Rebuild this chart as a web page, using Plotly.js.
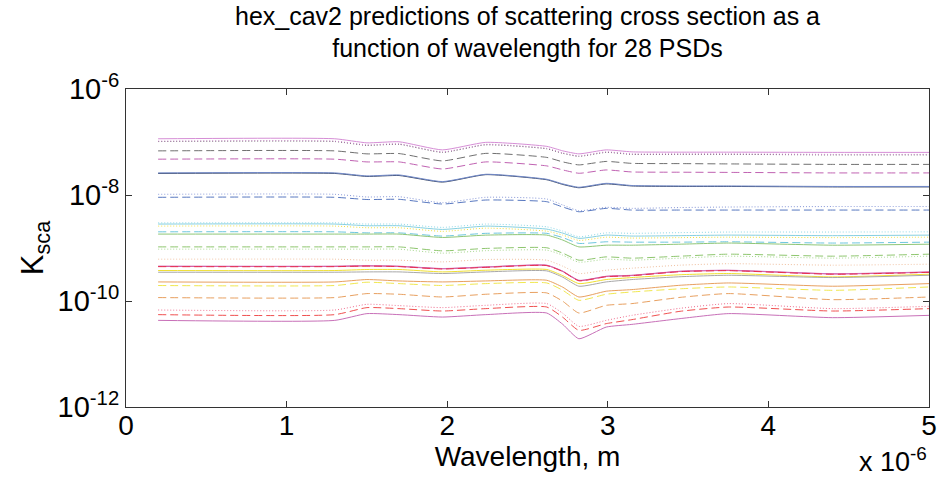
<!DOCTYPE html>
<html><head><meta charset="utf-8">
<script src="https://cdn.plot.ly/plotly-3.0.1.min.js"></script>
<style>html,body{margin:0;padding:0;background:#fff}#chart{width:937px;height:487px}</style>
</head><body><div id="chart"></div>
<script>
// Wavelength grid (m)
const wavelength = [0.2e-6, 1.3e-6, 1.5e-6, 1.7e-6, 1.97e-6, 2.24e-6, 2.62e-6, 2.72e-6, 2.82e-6, 2.99e-6, 3.15e-6, 3.45e-6, 3.75e-6, 4.4e-6, 5.0e-6];

// Ksca for the 28 PSDs
const psd01 = [1.15e-7, 1.15e-7, 9.64e-8, 1.01e-7, 7.10e-8, 9.85e-8, 8.27e-8, 6.80e-8, 5.97e-8, 7.10e-8, 6.51e-8, 6.43e-8, 6.43e-8, 6.37e-8, 6.37e-8];
const psd02 = [1.04e-7, 1.04e-7, 8.83e-8, 9.23e-8, 6.51e-8, 9.03e-8, 7.59e-8, 6.23e-8, 5.47e-8, 6.51e-8, 5.97e-8, 5.97e-8, 5.97e-8, 5.84e-8, 5.84e-8];
const psd03 = [6.80e-8, 6.80e-8, 5.97e-8, 6.05e-8, 4.40e-8, 6.10e-8, 5.12e-8, 4.21e-8, 3.70e-8, 4.30e-8, 3.95e-8, 3.91e-8, 3.86e-8, 3.78e-8, 3.78e-8];
const psd04 = [4.74e-8, 4.74e-8, 4.21e-8, 4.21e-8, 3.10e-8, 4.21e-8, 3.54e-8, 2.97e-8, 2.57e-8, 2.97e-8, 2.72e-8, 2.69e-8, 2.67e-8, 2.61e-8, 2.61e-8];
const psd05 = [2.61e-8, 2.61e-8, 2.29e-8, 2.39e-8, 1.79e-8, 2.46e-8, 1.98e-8, 1.62e-8, 1.40e-8, 1.66e-8, 1.51e-8, 1.48e-8, 1.48e-8, 1.45e-8, 1.45e-8];
const psd06 = [2.55e-8, 2.55e-8, 2.24e-8, 2.33e-8, 1.75e-8, 2.42e-8, 1.94e-8, 1.58e-8, 1.37e-8, 1.62e-8, 1.48e-8, 1.45e-8, 1.45e-8, 1.42e-8, 1.42e-8];
const psd07 = [1.03e-8, 1.03e-8, 9.17e-9, 9.29e-9, 7.15e-9, 9.05e-9, 8.40e-9, 6.47e-9, 5.05e-9, 5.85e-9, 5.60e-9, 5.80e-9, 5.93e-9, 6.06e-9, 6.06e-9];
const psd08 = [9.05e-9, 9.05e-9, 8.22e-9, 8.29e-9, 6.76e-9, 8.04e-9, 7.47e-9, 5.93e-9, 4.83e-9, 5.60e-9, 5.20e-9, 5.20e-9, 5.20e-9, 5.20e-9, 5.20e-9];
const psd09 = [2.99e-9, 2.99e-9, 2.83e-9, 2.83e-9, 2.45e-9, 2.83e-9, 2.51e-9, 2.08e-9, 1.63e-9, 1.93e-9, 1.89e-9, 1.95e-9, 2.00e-9, 2.00e-9, 2.02e-9];
const psd10 = [2.83e-9, 2.83e-9, 2.63e-9, 2.63e-9, 2.24e-9, 2.59e-9, 2.27e-9, 1.91e-9, 1.52e-9, 1.75e-9, 1.68e-9, 1.71e-9, 1.75e-9, 1.71e-9, 1.75e-9];
const psd11 = [2.59e-9, 2.59e-9, 2.41e-9, 2.41e-9, 2.06e-9, 2.37e-9, 2.08e-9, 1.75e-9, 1.39e-9, 1.60e-9, 1.54e-9, 1.57e-9, 1.60e-9, 1.57e-9, 1.60e-9];
const psd12 = [2.02e-9, 2.02e-9, 1.93e-9, 1.93e-9, 1.68e-9, 1.89e-9, 1.89e-9, 1.57e-9, 1.22e-9, 1.31e-9, 1.29e-9, 1.29e-9, 1.31e-9, 1.24e-9, 1.29e-9];
const psd13 = [1.83e-9, 1.83e-9, 1.83e-9, 1.83e-9, 1.58e-9, 1.75e-9, 1.75e-9, 1.41e-9, 1.05e-9, 1.13e-9, 1.13e-9, 1.18e-9, 1.24e-9, 1.13e-9, 1.18e-9];
const psd14 = [1.05e-9, 1.05e-9, 1.05e-9, 1.05e-9, 8.84e-10, 9.81e-10, 1.01e-9, 7.99e-10, 5.89e-10, 6.80e-10, 6.43e-10, 7.01e-10, 7.65e-10, 7.01e-10, 7.65e-10];
const psd15 = [9.51e-10, 9.51e-10, 9.51e-10, 9.51e-10, 7.99e-10, 8.91e-10, 9.11e-10, 7.32e-10, 5.40e-10, 6.15e-10, 5.89e-10, 6.43e-10, 7.01e-10, 6.43e-10, 7.01e-10];
const psd16 = [6.15e-10, 6.15e-10, 5.89e-10, 5.89e-10, 5.47e-10, 6.07e-10, 5.89e-10, 4.54e-10, 3.30e-10, 3.81e-10, 4.16e-10, 4.74e-10, 5.06e-10, 4.74e-10, 4.95e-10];
const psd17 = [4.54e-10, 4.54e-10, 4.64e-10, 4.54e-10, 4.10e-10, 4.40e-10, 4.74e-10, 3.65e-10, 2.46e-10, 2.93e-10, 3.06e-10, 3.65e-10, 3.81e-10, 3.27e-10, 3.54e-10];
const psd18 = [4.45e-10, 4.45e-10, 4.56e-10, 4.46e-10, 4.02e-10, 4.31e-10, 4.65e-10, 3.58e-10, 2.41e-10, 2.87e-10, 3.00e-10, 3.58e-10, 3.74e-10, 3.20e-10, 3.47e-10];
const psd19 = [3.76e-10, 3.76e-10, 3.93e-10, 3.93e-10, 3.54e-10, 3.81e-10, 3.93e-10, 3.00e-10, 2.13e-10, 2.54e-10, 2.77e-10, 3.13e-10, 3.30e-10, 2.85e-10, 3.20e-10];
const psd20 = [3.49e-10, 3.49e-10, 3.54e-10, 3.54e-10, 3.30e-10, 3.54e-10, 3.70e-10, 2.81e-10, 1.90e-10, 2.29e-10, 2.54e-10, 2.87e-10, 3.06e-10, 2.77e-10, 3.06e-10];
const psd21 = [2.29e-10, 2.29e-10, 2.54e-10, 2.39e-10, 2.29e-10, 2.39e-10, 2.46e-10, 1.82e-10, 1.19e-10, 1.53e-10, 1.64e-10, 1.98e-10, 2.19e-10, 1.90e-10, 2.13e-10];
const psd22 = [1.96e-10, 1.96e-10, 2.26e-10, 2.13e-10, 1.96e-10, 2.13e-10, 2.19e-10, 1.59e-10, 1.03e-10, 1.34e-10, 1.48e-10, 1.70e-10, 1.84e-10, 1.59e-10, 1.84e-10];
const psd23 = [1.16e-10, 1.16e-10, 1.38e-10, 1.34e-10, 1.19e-10, 1.34e-10, 1.42e-10, 9.87e-11, 5.93e-11, 8.29e-11, 8.93e-11, 1.17e-10, 1.38e-10, 1.06e-10, 1.19e-10];
const psd24 = [6.76e-11, 6.76e-11, 8.66e-11, 8.18e-11, 7.50e-11, 8.29e-11, 8.93e-11, 5.85e-11, 3.32e-11, 4.31e-11, 5.36e-11, 7.28e-11, 8.93e-11, 7.18e-11, 7.94e-11];
const psd25 = [5.53e-11, 5.53e-11, 7.50e-11, 7.18e-11, 6.47e-11, 7.18e-11, 7.70e-11, 4.92e-11, 2.79e-11, 3.74e-11, 4.45e-11, 6.39e-11, 7.70e-11, 6.47e-11, 7.18e-11];
const psd26 = [4.31e-11, 4.31e-11, 5.78e-11, 5.53e-11, 4.98e-11, 5.53e-11, 5.93e-11, 3.62e-11, 1.94e-11, 3.22e-11, 3.62e-11, 4.65e-11, 5.78e-11, 4.85e-11, 5.36e-11];
const psd27 = [1.02e-7, 1.02e-7, 8.65e-8, 9.05e-8, 6.38e-8, 8.85e-8, 7.44e-8, 6.11e-8, 5.36e-8, 6.38e-8, 5.85e-8, 5.85e-8, 5.85e-8, 5.72e-8, 5.72e-8];
const psd28 = [4.49e-10, 4.49e-10, 4.60e-10, 4.49e-10, 4.06e-10, 4.36e-10, 4.69e-10, 3.61e-10, 2.43e-10, 2.90e-10, 3.03e-10, 3.61e-10, 3.77e-10, 3.24e-10, 3.50e-10];

// Drawing order (first drawn is underneath)
const seriesValues = [psd06, psd27, psd01, psd02, psd03, psd04, psd05, psd07, psd08, psd09, psd10, psd11, psd12, psd13,
                      psd14, psd15, psd16, psd28, psd17, psd18, psd19, psd20, psd21, psd22, psd23, psd24, psd25, psd26];
const seriesNames = ['PSD 6', 'PSD 27', 'PSD 1', 'PSD 2', 'PSD 3', 'PSD 4', 'PSD 5', 'PSD 7', 'PSD 8', 'PSD 9', 'PSD 10',
                     'PSD 11', 'PSD 12', 'PSD 13', 'PSD 14', 'PSD 15', 'PSD 16', 'PSD 28', 'PSD 17', 'PSD 18', 'PSD 19',
                     'PSD 20', 'PSD 21', 'PSD 22', 'PSD 23', 'PSD 24', 'PSD 25', 'PSD 26'];

// Axis tick labels
const xTickVals = [0, 1e-6, 2e-6, 3e-6, 4e-6, 5e-6];
const xTickText = ['0', '1', '2', '3', '4', '5'];
const yTickVals = [1e-12, 1e-10, 1e-8, 1e-6];
const yTickText = ['10<sup>-12</sup>', '10<sup>-10</sup>', '10<sup>-8</sup>', '10<sup>-6</sup>'];

// Styles (same order as seriesValues)
const DOT = '1px,2px', DASH = '8px,4px';
const seriesColors = ['#3c4a68', '#505050', '#d68ed6', '#d68ed6', '#707070', '#c062b2', '#7088c8', '#8898d8', '#5878c0',
                      '#8ed8e8', '#86d0e0', '#f0e040', '#6ec6de', '#8ec676', '#8ec66e', '#a8d890', '#f0c0a0',
                      '#e03060', '#d070c0', '#e83050', '#f0e030', '#a8a8a8', '#e8a060', '#f0e850', '#e8a060',
                      '#f07090', '#f05050', '#c870b8'];
const seriesDash = ['solid', DOT, 'solid', DOT, DASH, DASH, 'solid', DOT, DASH,
                    DOT, 'solid', DOT, DASH, 'solid', DASH, DOT, DOT,
                    'solid', 'solid', DASH, 'solid', 'solid', 'solid', DASH, DASH,
                    DOT, DASH, 'solid'];

const font = 'Liberation Sans, Arial, Helvetica, sans-serif';

const traces = seriesValues.map((vals, i) => ({
  x: wavelength,
  y: vals,
  type: 'scatter',
  mode: 'lines',
  name: seriesNames[i],
  line: {color: seriesColors[i], width: 1, dash: seriesDash[i], shape: 'spline', smoothing: 0.5},
  hoverinfo: 'x+y+name'
}));

const layout = {
  width: 937, height: 487,
  margin: {l: 126, r: 8, t: 89, b: 80},
  paper_bgcolor: '#fff', plot_bgcolor: '#fff',
  showlegend: false,
  font: {family: font, color: '#000'},
  title: {
    text: 'hex_cav2 predictions of scattering cross section as a<br>function of wavelength for 28 PSDs',
    font: {family: font, size: 25, color: '#000'},
    x: 0.5, xref: 'paper', xanchor: 'center',
    y: 0.949, yref: 'container', yanchor: 'top'
  },
  xaxis: {
    range: [0, 5e-6],
    tickvals: xTickVals, ticktext: xTickText,
    ticks: 'inside', ticklen: 6, tickcolor: '#333', tickwidth: 1,
    showline: true, linecolor: '#333', linewidth: 1, mirror: 'ticks',
    showgrid: false, zeroline: false,
    ticklabelstandoff: -7, ticklabeloverflow: 'allow',
    tickfont: {family: font, size: 28, color: '#000'},
    title: {text: 'Wavelength, m', font: {family: font, size: 28, color: '#000'}, standoff: 0}
  },
  yaxis: {
    type: 'log', range: [-12, -6],
    tickvals: yTickVals, ticktext: yTickText,
    ticks: 'inside', ticklen: 6, tickcolor: '#333', tickwidth: 1,
    showline: true, linecolor: '#333', linewidth: 1, mirror: 'ticks',
    showgrid: false, zeroline: false,
    tickfont: {family: font, size: 29, color: '#000'},
    title: {text: 'K<sub>sca</sub>', font: {family: font, size: 31, color: '#000'}, standoff: 4}
  },
  annotations: [{
    text: 'x 10<sup>-6</sup>', xref: 'paper', yref: 'paper', x: 1.0, y: -0.108,
    xanchor: 'right', yanchor: 'top', showarrow: false,
    font: {family: font, size: 27, color: '#000'}
  }]
};

Plotly.newPlot('chart', traces, layout, {displayModeBar: false});
</script>
</body></html>
